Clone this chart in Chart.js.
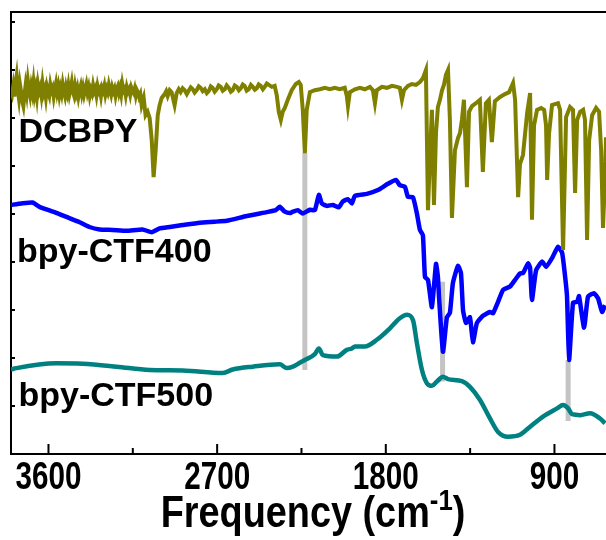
<!DOCTYPE html>
<html>
<head>
<meta charset="utf-8">
<script src="https://cdn.jsdelivr.net/npm/chart.js@4.4.1/dist/chart.umd.min.js"></script>
<style>
  html, body { margin: 0; padding: 0; background: #fff; overflow: hidden; }
  canvas { display: block; }
</style>
</head>
<body>
<canvas id="irChart" width="606" height="540"></canvas>
<script>
// IR spectra, [wavenumber (cm-1), offset transmittance]
const dcbpy = [
  [3800, 7.58], [3794, 7.50], [3788, 7.66], [3782, 7.45], [3776, 7.72], [3770, 7.88], [3764, 7.60], [3758, 7.42],
  [3752, 7.70], [3746, 7.55], [3740, 7.35], [3734, 7.25], [3728, 7.48], [3722, 7.68], [3716, 7.52], [3710, 7.78],
  [3704, 7.60], [3698, 7.47], [3692, 7.66], [3686, 7.53], [3680, 7.74], [3674, 7.49], [3668, 7.62], [3662, 7.44],
  [3656, 7.70], [3650, 7.56], [3644, 7.64], [3638, 7.48], [3632, 7.71], [3626, 7.52], [3620, 7.60], [3614, 7.43],
  [3608, 7.65], [3602, 7.55], [3596, 7.47], [3590, 7.69], [3584, 7.57], [3578, 7.63], [3572, 7.45], [3566, 7.60],
  [3560, 7.72], [3554, 7.54], [3548, 7.66], [3542, 7.48], [3536, 7.62], [3530, 7.51], [3524, 7.70], [3518, 7.56],
  [3512, 7.46], [3506, 7.64], [3500, 7.53], [3494, 7.68], [3488, 7.50], [3482, 7.61], [3476, 7.74], [3470, 7.55],
  [3464, 7.47], [3458, 7.66], [3452, 7.52], [3446, 7.62], [3440, 7.45], [3434, 7.58], [3428, 7.67], [3422, 7.51],
  [3416, 7.63], [3410, 7.49], [3404, 7.60], [3398, 7.70], [3392, 7.54], [3386, 7.64], [3380, 7.47], [3374, 7.59],
  [3368, 7.52], [3362, 7.68], [3356, 7.56], [3350, 7.62], [3344, 7.48], [3338, 7.66], [3332, 7.55], [3326, 7.60],
  [3320, 7.46], [3314, 7.63], [3308, 7.57], [3302, 7.67], [3296, 7.50], [3290, 7.61], [3284, 7.54], [3278, 7.69],
  [3272, 7.58], [3266, 7.49], [3260, 7.64], [3254, 7.56], [3248, 7.62], [3242, 7.47], [3236, 7.60], [3230, 7.66],
  [3224, 7.53], [3218, 7.63], [3212, 7.50], [3206, 7.70], [3200, 7.57], [3194, 7.61], [3188, 7.48], [3182, 7.64],
  [3176, 7.55], [3170, 7.60], [3164, 7.49], [3158, 7.63], [3152, 7.56], [3146, 7.52], [3140, 7.61], [3134, 7.47],
  [3128, 7.58], [3122, 7.53], [3116, 7.44], [3110, 7.50],
  [3103, 7.27], [3092, 7.42], [3082, 7.06], [3071, 7.13],
  [3060, 7.00], [3049, 6.54], [3039, 5.77], [3028, 6.33], [3017, 7.06], [3007, 7.27], [2996, 7.42], [2980, 7.50],
  [2972, 7.56], [2964, 7.46], [2953, 7.58], [2943, 7.54], [2927, 7.27], [2916, 7.52], [2905, 7.60], [2895, 7.54],
  [2884, 7.62], [2873, 7.58], [2862, 7.50], [2852, 7.57], [2841, 7.64], [2830, 7.60], [2820, 7.53], [2809, 7.58],
  [2798, 7.66], [2788, 7.63], [2777, 7.56], [2766, 7.60], [2755, 7.52], [2745, 7.56], [2734, 7.66], [2724, 7.63],
  [2713, 7.55], [2702, 7.60], [2692, 7.68], [2681, 7.65], [2670, 7.57], [2659, 7.60], [2649, 7.68], [2638, 7.63],
  [2627, 7.55], [2617, 7.58], [2606, 7.68], [2595, 7.65], [2584, 7.58], [2574, 7.62], [2563, 7.70], [2553, 7.67],
  [2542, 7.57], [2531, 7.60], [2520, 7.69], [2510, 7.65], [2499, 7.59], [2489, 7.62], [2478, 7.70], [2467, 7.67],
  [2456, 7.60], [2446, 7.65], [2435, 7.72], [2424, 7.69], [2408, 7.65], [2393, 7.67], [2382, 7.48], [2371, 7.13],
  [2360, 6.96], [2350, 7.13], [2339, 7.21], [2323, 7.38], [2302, 7.58], [2280, 7.71], [2264, 7.75], [2254, 7.69],
  [2243, 7.17], [2232, 6.27], [2222, 7.17], [2205, 7.54], [2179, 7.58], [2152, 7.60], [2125, 7.63], [2099, 7.60],
  [2072, 7.63], [2046, 7.60], [2019, 7.63], [2008, 7.46], [2002, 7.25], [1992, 7.54], [1965, 7.60], [1938, 7.63],
  [1912, 7.60], [1885, 7.65], [1869, 7.58], [1858, 7.31], [1848, 7.58], [1821, 7.65], [1794, 7.63], [1767, 7.67],
  [1741, 7.65], [1725, 7.63], [1714, 7.38], [1703, 7.58], [1682, 7.67], [1661, 7.71], [1639, 7.69], [1618, 7.75],
  [1602, 7.83], [1586, 8.00], [1575, 5.08], [1564, 6.25], [1554, 7.17], [1543, 5.19], [1532, 6.71], [1522, 7.23],
  [1511, 7.38], [1500, 7.58], [1490, 7.69], [1479, 7.90], [1468, 8.00], [1458, 6.96], [1447, 4.92], [1431, 6.33],
  [1415, 6.58], [1404, 6.69], [1394, 6.96], [1383, 7.38], [1367, 5.56], [1356, 7.13], [1340, 7.25], [1319, 7.31],
  [1298, 7.38], [1282, 5.88], [1266, 7.31], [1250, 7.38], [1234, 6.50], [1218, 7.35], [1190, 7.44], [1164, 7.50],
  [1142, 7.54], [1121, 7.73], [1110, 7.38], [1094, 5.35], [1084, 6.04], [1068, 6.23], [1046, 7.10], [1030, 7.52],
  [1020, 4.88], [1009, 6.85], [993, 7.17], [971, 7.21], [955, 7.17], [945, 6.85], [939, 5.71], [929, 6.67],
  [913, 7.27], [897, 7.29], [881, 7.31], [870, 7.17], [854, 4.25], [838, 7.02], [817, 7.23], [801, 7.17],
  [790, 5.44], [779, 6.96], [763, 7.13], [747, 7.17], [737, 6.96], [726, 4.46], [715, 6.54], [699, 7.06],
  [678, 7.21], [662, 7.13], [651, 6.33], [641, 4.71], [630, 5.80], [625, 6.60]
];

const ctf400 = [
  [3800, 5.19], [3744, 5.22], [3685, 5.24], [3648, 5.15], [3568, 5.04], [3504, 4.94], [3434, 4.83], [3381, 4.73],
  [3327, 4.68], [3258, 4.67], [3183, 4.65], [3098, 4.68], [3049, 4.62], [3007, 4.70], [2953, 4.73], [2884, 4.77],
  [2793, 4.82], [2713, 4.84], [2649, 4.86], [2542, 4.96], [2435, 5.04], [2387, 5.08], [2366, 5.15], [2339, 5.05],
  [2312, 5.02], [2296, 5.05], [2270, 5.08], [2243, 5.01], [2205, 5.09], [2179, 5.08], [2157, 5.40], [2141, 5.22],
  [2115, 5.17], [2083, 5.19], [2051, 5.14], [2030, 5.26], [2002, 5.31], [1981, 5.22], [1965, 5.38], [1901, 5.42],
  [1842, 5.50], [1789, 5.63], [1746, 5.71], [1725, 5.60], [1698, 5.57], [1682, 5.36], [1655, 5.35], [1634, 5.01],
  [1618, 4.67], [1602, 4.56], [1591, 3.69], [1575, 3.63], [1554, 3.06], [1532, 3.96], [1522, 3.69], [1516, 3.27],
  [1495, 2.13], [1474, 2.85], [1458, 2.94], [1442, 3.56], [1415, 3.92], [1399, 3.77], [1388, 3.00], [1372, 2.73],
  [1351, 2.85], [1335, 2.33], [1314, 2.73], [1282, 2.88], [1244, 2.96], [1228, 2.93], [1201, 3.17], [1174, 3.42],
  [1137, 3.49], [1110, 3.63], [1084, 3.76], [1068, 3.77], [1041, 3.97], [1030, 3.88], [1020, 3.21], [998, 3.83],
  [966, 4.01], [945, 3.90], [913, 4.08], [881, 4.32], [859, 4.19], [843, 3.69], [833, 3.28], [822, 1.96],
  [801, 3.15], [779, 3.17], [769, 3.29], [742, 2.63], [721, 3.28], [689, 3.35], [667, 3.24], [646, 2.96],
  [630, 3.10]
];

const ctf500 = [
  [3800, 1.76], [3771, 1.79], [3557, 1.89], [3418, 1.88], [3236, 1.82], [3060, 1.75], [2884, 1.74], [2670, 1.69],
  [2617, 1.76], [2510, 1.82], [2366, 1.87], [2328, 1.79], [2296, 1.82], [2259, 1.90], [2232, 1.96], [2179, 2.08],
  [2157, 2.20], [2136, 2.06], [2061, 2.03], [2008, 2.17], [1981, 2.20], [1965, 2.24], [1912, 2.24], [1848, 2.38],
  [1778, 2.62], [1725, 2.83], [1687, 2.90], [1655, 2.79], [1634, 2.31], [1607, 1.75], [1580, 1.47], [1554, 1.42],
  [1527, 1.51], [1495, 1.61], [1468, 1.56], [1394, 1.52], [1351, 1.40], [1298, 1.13], [1244, 0.74], [1201, 0.46],
  [1148, 0.36], [1084, 0.40], [1030, 0.57], [961, 0.78], [886, 0.95], [854, 1.02], [827, 0.95], [806, 0.83],
  [763, 0.81], [710, 0.85], [657, 0.74], [630, 0.64]
];

// grey guide lines: wavenumber, top, bottom
const markerWavenumber = [2232, 1497, 827];
const markerTop = [6.27, 3.59, 1.96];
const markerBottom = [1.75, 1.51, 0.69];

const seriesNames = ["DCBPY", "bpy-CTF400", "bpy-CTF500"];
const seriesColors = ["#808000", "#0000ff", "#008080"];
const labelPos = [[3760, 6.5], [3768, 4.0], [3760, 1.0]];

const xMajorTicks = [3600, 2700, 1800, 900];
const xMinorTicks = [3150, 2250, 1350];
const yTicks = [1, 2, 3, 4, 5, 6, 7, 8, 9];

const toXY = (arr) => arr.map(([x, y]) => ({ x, y }));

const markerSets = markerWavenumber.map((wn, i) => ({
  data: [{ x: wn, y: markerTop[i] }, { x: wn, y: markerBottom[i] }],
  borderColor: "#c4c4c4",
  borderWidth: 5,
  pointRadius: 0,
  order: 10,
}));

const BOLD = "'Liberation Sans', Arial, sans-serif";

// narrow bold text (the original uses an Arial Narrow look)
function narrowText(ctx, text, x, y, size, squeeze, align) {
  ctx.save();
  ctx.font = "bold " + size + "px " + BOLD;
  ctx.textAlign = align;
  ctx.translate(x, y);
  ctx.scale(squeeze, 1);
  ctx.fillText(text, 0, 0);
  ctx.restore();
}

const frame = {
  id: "frame",
  afterDraw(chart) {
    const { ctx, chartArea: a, scales: { x, y } } = chart;
    ctx.save();
    ctx.strokeStyle = "#000";
    ctx.lineWidth = 2;
    ctx.beginPath();
    ctx.moveTo(a.left - 1, a.top);
    ctx.lineTo(a.right, a.top);
    xMajorTicks.forEach((v) => {
      const px = x.getPixelForValue(v);
      ctx.moveTo(px, a.bottom);
      ctx.lineTo(px, a.bottom - 10);
    });
    xMinorTicks.forEach((v) => {
      const px = x.getPixelForValue(v);
      ctx.moveTo(px, a.bottom);
      ctx.lineTo(px, a.bottom - 6);
    });
    yTicks.forEach((v) => {
      const py = y.getPixelForValue(v);
      ctx.moveTo(a.left, py);
      ctx.lineTo(a.left + 4, py);
    });
    ctx.stroke();

    ctx.fillStyle = "#000";
    ctx.textBaseline = "alphabetic";

    // tick labels
    xMajorTicks.forEach((v) => {
      narrowText(ctx, String(v), x.getPixelForValue(v), a.bottom + 35, 38, 0.78, "center");
    });

    // series names
    ctx.textAlign = "left";
    ctx.font = "bold 34px " + BOLD;
    seriesNames.forEach((name, i) => {
      ctx.fillText(name, x.getPixelForValue(labelPos[i][0]), y.getPixelForValue(labelPos[i][1]));
    });

    // axis title with superscript
    const sq = 0.86;
    ctx.font = "bold 44px " + BOLD;
    const w1 = ctx.measureText("Frequency (cm").width * sq;
    const w3 = ctx.measureText(")").width * sq;
    ctx.font = "bold 30px " + BOLD;
    const w2 = ctx.measureText("-1").width * sq;
    let tx = 313 - (w1 + w2 + w3) / 2;
    const base = 527;
    narrowText(ctx, "Frequency (cm", tx, base, 44, sq, "left");
    tx += w1;
    narrowText(ctx, "-1", tx, base - 17, 30, sq, "left");
    tx += w2;
    narrowText(ctx, ")", tx, base, 44, sq, "left");
    ctx.restore();
  },
};

new Chart(document.getElementById("irChart"), {
  type: "line",
  data: {
    datasets: [
      { label: seriesNames[0], data: toXY(dcbpy), borderColor: seriesColors[0], borderWidth: 4, pointRadius: 0, tension: 0, order: 1 },
      { label: seriesNames[1], data: toXY(ctf400), borderColor: seriesColors[1], borderWidth: 4.5, pointRadius: 0, tension: 0.15, order: 1 },
      { label: seriesNames[2], data: toXY(ctf500), borderColor: seriesColors[2], borderWidth: 4.5, pointRadius: 0, cubicInterpolationMode: "monotone", order: 1 },
      ...markerSets,
    ],
  },
  options: {
    responsive: false,
    animation: false,
    layout: { padding: { top: 12, right: 0, left: 0, bottom: 0 } },
    plugins: { legend: { display: false }, tooltip: { enabled: false } },
    scales: {
      x: {
        type: "linear",
        reverse: true,
        min: 625,
        max: 3800,
        grid: { display: false, drawTicks: false },
        border: { display: true, color: "#000", width: 2 },
        ticks: { display: false },
        afterFit: (scale) => { scale.height = 86; },
      },
      y: {
        min: 0,
        max: 9.21,
        grid: { display: false, drawTicks: false },
        border: { display: true, color: "#000", width: 2 },
        ticks: { display: false },
        afterFit: (scale) => { scale.width = 11; },
      },
    },
  },
  plugins: [frame],
});
</script>
</body>
</html>
